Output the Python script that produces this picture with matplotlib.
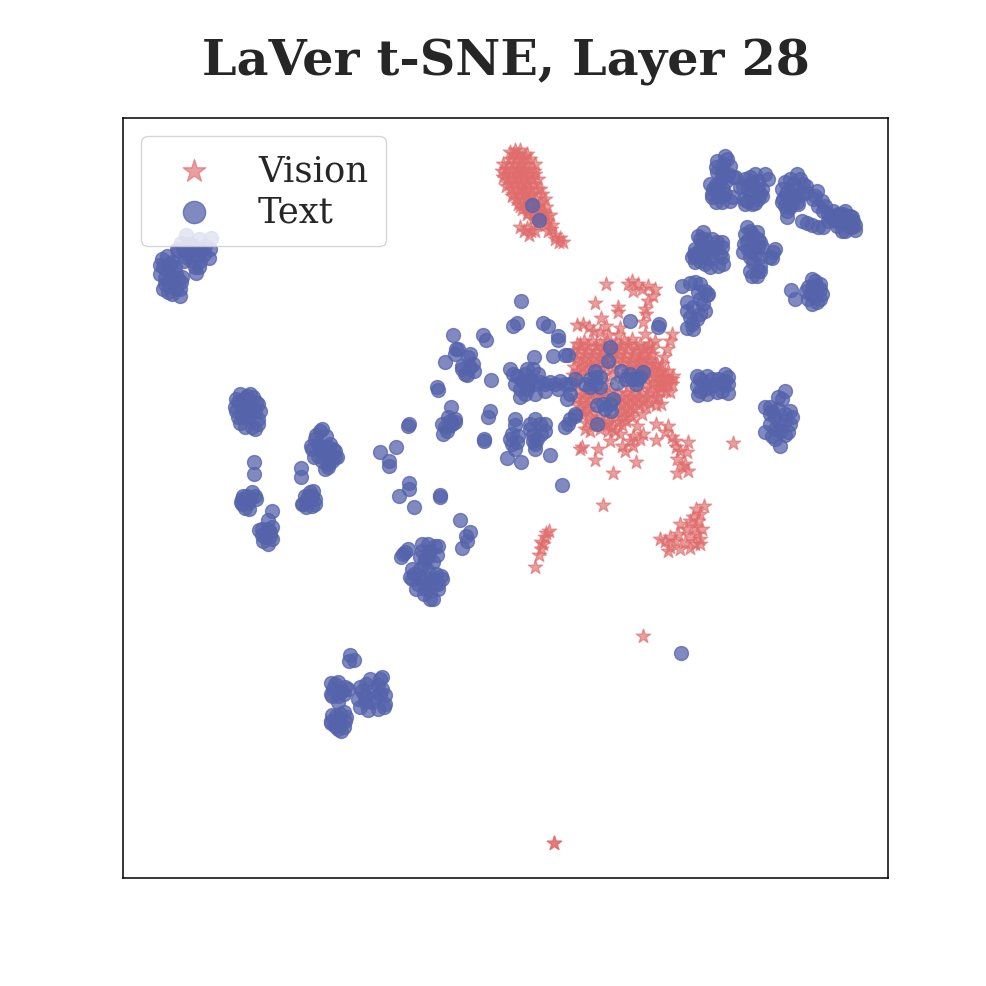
import matplotlib
matplotlib.use("Agg")
import numpy as np
import matplotlib.pyplot as plt

plt.rcParams['font.family'] = 'DejaVu Serif'
text_color = '#262626'
vision_color = '#e06c6c'
txt_color = '#5563ab'

# t-SNE coordinates (no ticks, so the scale is arbitrary)
vision_top = [(513,155),(518,155),(510,160),(516,160),(522,160),(508,165),(514,165),(520,165),(526,165),
    (506,170),(512,170),(518,170),(524,170),(530,170),(505,175),(511,175),(517,175),(523,175),(529,175),
    (507,180),(513,180),(519,180),(525,180),(532,180),(509,185),(515,185),(521,185),(527,185),(534,185),
    (511,190),(517,190),(523,190),(530,190),(537,190),(513,195),(519,195),(525,195),(532,195),
    (516,200),(522,200),(528,200),(536,200),(541,203),(518,205),(524,205),(530,205),(538,207),
    (522,210),(528,210),(534,210),(542,212),(527,215),(533,215),(540,215),(546,218),(533,220),(540,220),(547,222),
    (527,229),(531,232),(537,225),(545,226),(551,230),(548,232),(555,236),(555,240),(560,239),(563,243),(559,243),
    (503,165),(502,172),(503,178),(506,187),(512,197),(520,207),(535,175),(538,180),(540,190),(542,195),(545,200),
    (530,160),(527,155),(535,165),(515,151),(520,151),(510,153),(525,157),(534,172),(528,213),(546,208),(550,216),
    (552,226),(535,232),(520,228),(524,232),(529,236),(517,170),(515,178),(521,172),(527,178),(520,188),(526,192),
    (530,198),(534,204),(538,212),(544,215),(536,218)]
vision_blob = [(632,282),(638,285),(628,285),(648,287),(655,290),(653,297),(648,302),(645,310),(646,315),(642,290),(633,292),
    (606,285),(595,304),(618,308),(618,313),(672,335),(670,342),(667,350),(664,358),(662,365),
    (577,326),(583,325),(589,328),(601,319),(606,327),(600,333),(593,332),(608,336),(620,329),(618,336),(643,323),(645,335),
    (577,345),(584,342),(592,342),(600,345),(607,342),(616,345),(624,342),(632,340),(640,345),(648,348),(655,342),
    (573,352),(580,350),(588,352),(596,352),(604,352),(612,352),(620,352),(628,350),(636,352),(644,355),(652,355),
    (576,360),(584,360),(592,360),(600,360),(616,360),(624,360),(632,360),(640,362),(648,362),(657,365),
    (574,368),(582,368),(590,368),(598,368),(606,368),(614,368),(630,368),(638,368),(646,370),(654,370),
    (573,376),(580,376),(604,376),(612,376),(622,378),(646,378),(654,378),(662,378),(673,377),(668,372),
    (576,384),(606,386),(628,388),(636,388),(644,386),(652,385),(660,383),(663,387),(672,385),
    (578,392),(586,392),(594,392),(602,394),(610,392),(618,394),(626,394),(634,396),(642,394),(650,394),(660,392),(670,393),
    (576,400),(584,400),(592,400),(618,402),(626,402),(634,402),(642,402),(650,404),(656,406),(661,405),
    (580,408),(588,410),(618,410),(626,410),(634,410),(642,415),(582,416),(590,418),(600,418),(608,420),(616,418),(624,418),(632,418),
    (586,424),(594,426),(604,426),(612,428),(622,426),(637,427),(656,425),(668,427),(585,430),(610,442),
    (580,450),(582,448),(595,461),(598,450),(613,474),(636,463),(622,447),(625,452),(633,437),(643,435),(633,447),(630,442),
    (656,441),(665,433),(675,442),(688,443),(680,452),(687,453),(677,460),(685,465),(677,474),(688,472),(682,467),(676,448),(672,438)]
vision_blob_fill = [(580,345),(588,347),(596,347),(604,347),(612,348),(620,347),(628,345),(636,347),(644,350),(652,350),
    (578,356),(586,356),(594,356),(602,356),(610,356),(618,356),(626,356),(634,356),(642,358),(650,360),
    (580,364),(588,364),(596,364),(604,364),(612,364),(622,364),(630,364),(638,364),(646,366),(655,366),
    (578,372),(586,372),(628,372),(636,372),(644,374),(652,374),(660,374),(668,380),(660,388),(650,390),
    (582,396),(590,396),(598,398),(606,398),(614,398),(622,398),(630,398),(638,398),(646,398),(655,398),
    (580,404),(588,405),(622,406),(630,406),(638,406),(646,408),(585,412),(594,414),(622,414),(630,414),
    (596,422),(608,424),(618,423),(626,422),(600,430),(608,432),(615,432),(590,432),(620,435),(640,440),
    (650,345),(662,372),(672,380),(666,392),(658,398),(668,385),(655,383),(663,380)]
vision_low = [(704,507),(696,510),(700,515),(693,518),(698,522),(690,522),(680,525),(695,528),(702,530),(686,530),(678,535),
    (697,535),(690,537),(700,540),(670,538),(660,540),(665,542),(675,542),(685,543),(695,545),(670,548),(668,552),(680,550),(690,549),(700,545),
    (549,532),(545,538),(543,545),(541,550),(539,556),(535,568),(546,534),(541,543)]
vision_lone = [(733,444),(603,506),(643,637),(554,844),(554,844)]

text_left = [(186,236),(199,240),(211,239),(181,244),(192,246),(205,247),(178,252),(188,255),(197,258),(209,259),(184,262),(199,268),(196,274),(190,252),
    (163,268),(167,257),(172,263),(160,266),(168,272),(175,268),(165,279),(172,277),(178,280),(170,287),(176,290),(180,297),(168,293),(181,283),(174,283),
    (177,250),(183,250),(195,250),(210,250),(186,258),(204,255),(192,262),(200,262),(195,268),(189,245),(200,250),
    (162,260),(165,285),(180,290),(172,295),(163,290),(170,265),(176,275),(168,283),(182,278),(160,275)]
text_midleft = [(247,397),(238,403),(250,405),(243,410),(255,412),(235,408),(248,418),(258,420),(240,424),(252,428),(246,415),(256,403),(253,398),
    (254,463),(254,475),(243,497),(255,497),(248,504),(242,505),(249,510),(272,512),(268,521),(262,530),(270,533),(265,538),(268,545),(262,536),
    (320,432),(326,437),(315,440),(330,445),(320,447),(312,450),(335,458),(325,455),(318,457),(328,465),(322,452),(333,450),
    (301,469),(301,478),(310,493),(315,500),(306,502),(303,505),(312,507),(308,497),
    (380,453),(396,448),(389,462),(389,467),(399,497),(409,484),(409,490),(414,508),(440,496),(440,498),(409,425),(408,427),
    (236,400),(240,395),(250,395),(258,405),(260,412),(258,425),(255,430),(245,428),(238,418),(236,412),(244,400),(250,412),(242,418),
    (322,430),(316,436),(311,447),(314,458),(337,458),(335,452),(328,468),(325,470),(322,462),(328,448),(318,445),(332,462),
    (302,505),(305,497),(313,492),(315,505),(312,497),(306,508),
    (242,500),(252,493),(256,500),(245,509),(241,503),(250,500),(247,497),
    (259,531),(272,540),(272,528),(263,542),(268,530),(270,537)]
text_bottom = [(428,545),(435,547),(422,552),(430,552),(437,556),(425,560),(433,563),(405,553),(401,558),(414,575),(420,570),(428,572),(436,575),
    (420,580),(428,585),(416,590),(430,592),(438,590),(433,600),(424,595),(441,577),(460,521),(462,549),(467,542),(470,533),(466,537),
    (350,656),(354,661),(349,662),(338,683),(333,690),(342,692),(338,697),(332,697),(345,688),
    (382,678),(378,686),(366,685),(372,692),(362,692),(380,695),(385,705),(372,703),(365,703),(378,710),(358,700),
    (344,713),(336,717),(331,722),(340,724),(345,722),(341,732),(335,727),
    (412,570),(410,578),(418,585),(424,565),(432,580),(438,585),(442,580),(422,545),(438,547),(428,558),(420,558),(425,578),(412,580),(435,585),(430,600),(425,590),(403,555),(408,550),
    (331,684),(335,685),(344,695),(331,695),(338,703),(348,690),(370,680),(380,680),(360,688),(385,696),(384,708),(368,711),(360,708),(375,698),(382,690),(365,697),
    (332,716),(344,728),(340,715),(331,724),(338,730),(346,718),(336,722)]
text_mid = [(453,336),(483,336),(486,341),(456,350),(445,363),(468,358),(473,365),(455,355),(467,376),(474,372),(462,367),(491,381),(437,388),(438,391),
    (451,408),(450,422),(445,428),(443,435),(455,423),(449,427),(490,412),(488,418),(484,440),(484,442),
    (517,324),(513,327),(521,302),(543,324),(548,327),(558,337),(558,341),(534,358),(553,357),(565,356),(568,356),
    (510,370),(517,377),(522,382),(533,370),(530,380),(538,375),(527,390),(520,398),(535,395),(545,385),(555,385),(565,385),(570,385),(550,383),(567,400),(515,385),(527,370),
    (515,426),(517,443),(512,445),(507,459),(521,463),(510,440),(533,436),(533,442),(535,450),(550,456),(565,428),(570,420),(575,415),(575,417),(545,425),(535,420),(530,430),(541,435),
    (532,206),(539,221),(562,486),(681,654),
    (513,375),(525,375),(520,390),(525,395),(535,385),(540,383),(528,385),(558,390),(570,395),(575,380),(560,382),(545,392),
    (512,435),(515,450),(518,437),(530,425),(535,445),(537,440),(540,425),(545,432),(568,425),(515,420),
    (448,418),(455,420),(442,425),(452,425),(447,432),(458,350),(462,370),(470,368),(465,375),(470,355)]
text_center = [(610,348),(608,362),(621,372),(595,378),(585,385),(595,385),(617,384),(632,380),(637,380),(643,373),(597,406),(610,405),(611,412),(603,405),(597,425),
    (630,322),(659,325),(658,328),(682,287),(695,283),(700,285),(707,296),(698,293),(687,303),(687,312),(705,312),(700,315),(692,325),(693,330),(687,329),
    (590,380),(600,378),(590,388),(600,388),(595,372),(636,385),(630,375),(640,378),(626,380),(605,410),(613,400),
    (690,284),(705,292),(700,300),(693,308),(690,318),(697,320),(703,305),(708,295)]
text_right = [(697,377),(697,387),(698,396),(707,377),(710,387),(717,393),(725,375),(728,378),(728,394),(723,385),(703,383),
    (785,392),(782,400),(770,408),(765,408),(778,410),(790,412),(775,418),(785,422),(790,425),(770,425),(765,433),(772,437),(780,447),(785,436),(775,430),
    (700,380),(705,390),(712,380),(718,380),(722,392),(728,385),(715,385),(700,392),(707,395),(725,382),
    (770,415),(792,418),(780,425),(775,440),(785,415),(778,398),(788,433),(772,412),(780,432)]
text_upper = [(725,157),(717,162),(723,165),(730,167),(717,173),(723,173),(733,178),(713,190),(720,183),(718,197),(712,198),(722,203),(730,202),(723,190),
    (755,175),(765,175),(743,187),(753,187),(762,190),(747,202),(752,205),(758,200),(758,182),
    (797,175),(785,183),(803,185),(793,185),(783,200),(793,197),(803,195),(790,208),(787,218),(797,203),
    (802,222),(812,226),(823,228),(815,197),(822,202),(818,207),(823,212),(833,212),(830,218),(843,215),(850,217),(840,223),(852,228),(842,232),(847,223),(837,227),(853,222),
    (747,228),(757,233),(752,235),(747,242),(760,243),(743,253),(752,248),(758,248),(753,263),(758,272),(752,277),(760,267),(773,253),(772,259),
    (703,233),(698,237),(702,243),(717,243),(722,248),(695,250),(707,253),(713,253),(695,263),(705,265),(718,267),(723,265),(700,257),
    (791,291),(795,300),(815,282),(808,288),(820,290),(808,300),(817,303),(813,293),(813,287),
    (716,168),(727,160),(722,172),(735,178),(710,185),(712,195),(725,195),(716,203),(733,198),(722,178),(728,175),(716,186),(726,182),(722,197),(718,190),
    (745,180),(750,178),(768,180),(748,190),(740,188),(758,190),(750,195),(744,200),(760,195),(755,204),(745,205),(762,197),(752,183),
    (782,190),(795,190),(800,180),(786,195),(788,192),(798,197),(806,187),(785,207),(792,205),(798,205),(787,212),(806,193),(782,203),(790,180),(790,198),
    (807,224),(818,228),(817,192),(813,200),(825,207),(828,215),(835,222),(845,212),(838,215),(852,218),(855,226),(845,232),(850,228),(840,215),(848,220),(833,220),(855,231),(828,222),
    (750,232),(745,235),(758,240),(748,250),(762,248),(744,245),(755,255),(750,258),(760,258),(750,272),(757,277),(760,272),(775,250),(770,258),
    (694,255),(700,240),(710,248),(705,240),(720,255),(722,258),(692,258),(700,262),(710,260),(715,248),(710,268),(695,257),(722,243),(705,250),(712,240),(700,250),
    (812,280),(820,285),(822,295),(810,295),(815,298),(812,305),(820,300),(817,288),(806,292)]

vision = np.array(vision_top + vision_blob + vision_blob_fill + vision_low + vision_lone)
text = np.array(text_left + text_midleft + text_bottom + text_mid + text_center + text_right + text_upper)

fig, ax = plt.subplots(figsize=(9.87, 9.87), dpi=100)
fig.subplots_adjust(left=0.125, right=0.9, top=0.8795, bottom=0.1095)

ax.scatter(vision[:, 0], vision[:, 1], marker='*', s=115, c=vision_color, alpha=0.65, label='Vision')
ax.scatter(text[:, 0], text[:, 1], marker='o', s=100, c=txt_color, alpha=0.75, label='Text')

ax.set_xlim(123.5, 888)
ax.set_ylim(878.5, 119)
ax.set_xticks([])
ax.set_yticks([])
for s in ax.spines.values():
    s.set_linewidth(1.1)
    s.set_color('black')

ax.set_title('LaVer t-SNE, Layer 28', fontsize=35.5, fontweight='bold', color=text_color, pad=31)
leg = ax.legend(loc='upper left', fontsize=25.5, markerscale=1.6, labelspacing=0.2, borderpad=0.5)
for t in leg.get_texts():
    t.set_color(text_color)

fig.savefig('out.png', dpi=100)
